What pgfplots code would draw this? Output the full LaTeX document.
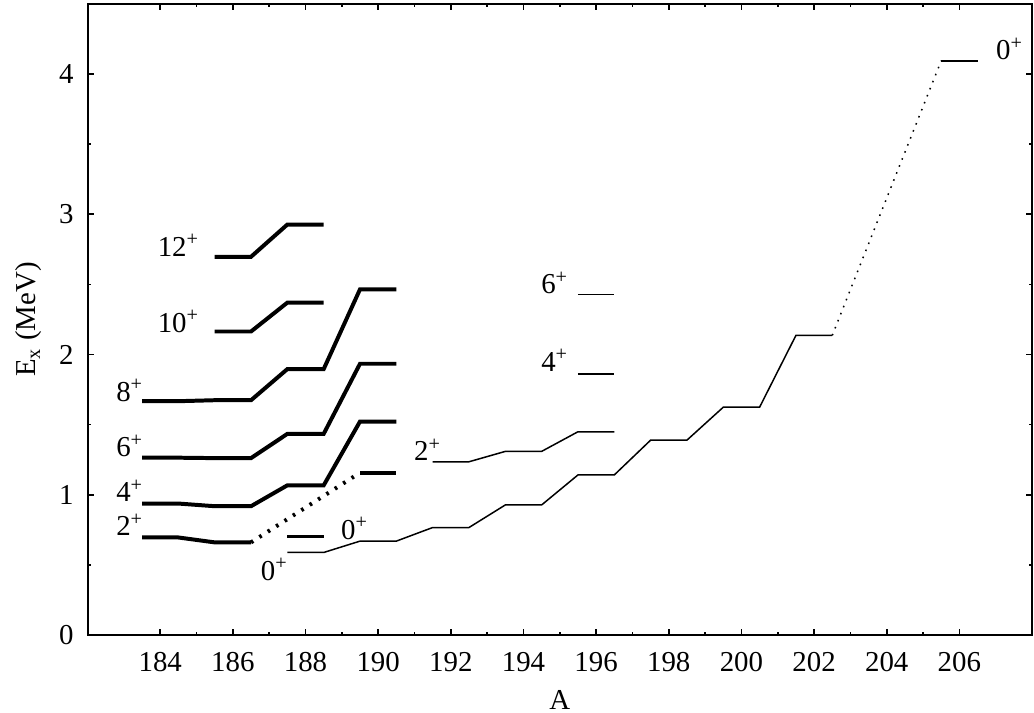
\documentclass[border=0pt]{standalone}
\usepackage{fontspec}
\setmainfont{Liberation Serif}
\usepackage{pgfplots}
\pgfplotsset{compat=1.18}
\begin{document}
\newcommand{\lv}[2]{#1\textsuperscript{#2}}
\begin{tikzpicture}
\useasboundingbox (-41.5pt,-39pt) rectangle (475.5pt,319pt);
\begin{axis}[
  at={(0pt,0pt)}, anchor=south west,
  scale only axis,
  width=474.5pt, height=317pt,
  xmin=182, xmax=208, ymin=0, ymax=4.5,
  xtick={184,186,...,206}, ytick={0,1,2,3,4},
  minor x tick num=1, minor y tick num=1,
  tick align=inside,
  major tick length=3pt, minor tick length=1.5pt,
  axis line style={line width=1pt},
  every tick/.style={black, line width=0.8pt},
  /pgf/number format/assume math mode=true,
  /pgf/number format/set thousands separator={},
  tick label style={font=\fontsize{14.5}{16}\selectfont},
  xticklabel style={yshift=-5pt},
  yticklabel style={xshift=-3.5pt},
  xlabel={A}, ylabel={E\textsubscript{x} (MeV)},
  every axis x label/.style={at={(axis description cs:0.5,0)}, anchor=center, yshift=-32.5pt, font=\fontsize{14.5}{16}\selectfont},
  every axis y label/.style={at={(axis description cs:0,0.5)}, anchor=center, rotate=90, yshift=29.5pt, font=\fontsize{14.5}{16}\selectfont},
  clip=false,
]
% thick band (left)
\addplot[black, line width=2pt] coordinates {(185.5,2.697)(186.5,2.697)(187.5,2.927)(188.5,2.927)};
\addplot[black, line width=2pt] coordinates {(185.5,2.164)(186.5,2.164)(187.5,2.370)(188.5,2.370)};
\addplot[black, line width=2pt] coordinates {(183.5,1.667)(184.5,1.667)(185.5,1.674)(186.5,1.674)(187.5,1.896)(188.5,1.896)(189.5,2.465)(190.5,2.465)};
\addplot[black, line width=2pt] coordinates {(183.5,1.264)(184.5,1.264)(185.5,1.261)(186.5,1.261)(187.5,1.434)(188.5,1.434)(189.5,1.934)(190.5,1.934)};
\addplot[black, line width=2pt] coordinates {(183.5,0.937)(184.5,0.937)(185.5,0.918)(186.5,0.918)(187.5,1.067)(188.5,1.067)(189.5,1.522)(190.5,1.522)};
\addplot[black, line width=2pt] coordinates {(183.5,0.695)(184.5,0.695)(185.5,0.660)(186.5,0.660)};
\addplot[black, line width=2pt, dash pattern=on 1.3pt off 3.7pt] coordinates {(186.5,0.660)(189.5,1.157)};
\addplot[black, line width=2pt] coordinates {(189.5,1.157)(190.5,1.157)};
\addplot[black, line width=2pt] coordinates {(187.5,0.702)(188.5,0.702)};
% thin band (right)
\addplot[black, line width=0.75pt] coordinates {(187.5,0.588)(188.5,0.588)(189.5,0.669)(190.5,0.669)(191.5,0.766)(192.5,0.766)(193.5,0.927)(194.5,0.927)(195.5,1.141)(196.5,1.141)(197.5,1.389)(198.5,1.389)(199.5,1.624)(200.5,1.624)(201.5,2.136)(202.5,2.136)};
\addplot[black, line width=0.75pt, dash pattern=on 0.8pt off 3pt] coordinates {(202.5,2.136)(205.5,4.095)};
\addplot[black, line width=0.75pt] coordinates {(205.5,4.095)(206.5,4.095)};
\addplot[black, line width=0.75pt] coordinates {(191.5,1.235)(192.5,1.235)(193.5,1.309)(194.5,1.309)(195.5,1.449)(196.5,1.449)};
\addplot[black, line width=0.75pt] coordinates {(195.5,1.861)(196.5,1.861)};
\addplot[black, line width=0.75pt] coordinates {(195.5,2.429)(196.5,2.429)};
% labels
\begin{scope}[every node/.style={font=\fontsize{14.5}{16}\selectfont, inner sep=0pt}]
\node at (axis cs:184.5,2.78) {\lv{12}{+}};
\node at (axis cs:184.5,2.236) {\lv{10}{+}};
\node at (axis cs:183.16,1.745) {\lv{8}{+}};
\node at (axis cs:183.16,1.348) {\lv{6}{+}};
\node at (axis cs:183.16,1.029) {\lv{4}{+}};
\node at (axis cs:183.16,0.787) {\lv{2}{+}};
\node at (axis cs:187.14,0.468) {\lv{0}{+}};
\node at (axis cs:189.35,0.759) {\lv{0}{+}};
\node at (axis cs:191.36,1.32) {\lv{2}{+}};
\node at (axis cs:194.86,2.51) {\lv{6}{+}};
\node at (axis cs:194.86,1.96) {\lv{4}{+}};
\node at (axis cs:207.38,4.18) {\lv{0}{+}};
\end{scope}
\end{axis}
\end{tikzpicture}
\end{document}
